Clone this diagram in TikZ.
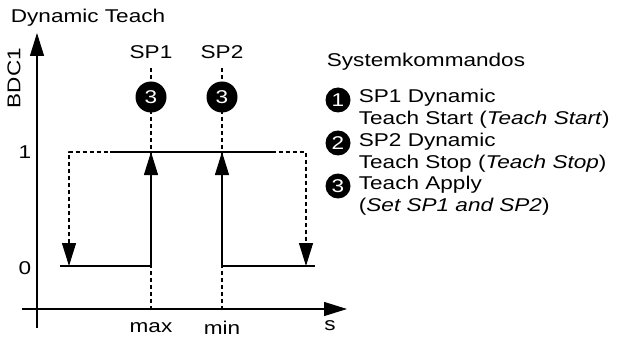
\documentclass[tikz,border=0pt]{standalone}
\usepackage{fontspec}
\setmainfont{Liberation Sans}[FakeStretch=1.22]
\usetikzlibrary{arrows.meta,positioning}
\tikzset{
	numdot/.style={circle, fill=black, text=white, inner sep=0pt, minimum size=31pt},
	legdot/.style={circle, fill=black, text=white, inner sep=0pt, minimum size=25pt},
	dashln/.style={dash pattern=on 4pt off 3pt},
}
\begin{document}
\begin{tikzpicture}[x=10pt,y=10pt,>={Triangle[length=23pt,width=14pt]}, line width=1.1pt, font=\fontsize{18.5}{22}\selectfont, line join=round, line cap=butt]
	\useasboundingbox (-3.7,-3.1) rectangle (58,30.9);
	\def\ylo{4.3} \def\yhi{15.7} \def\xmx{11.4} \def\xmn{18.5} \def\xl{3.2} \def\xr{26.9}
	% axes
	\coordinate (xa) at (-1.5,0); \coordinate (xb) at (31,0);
	\coordinate (ya) at (0,-1.9); \coordinate (yb) at (0,27.6);
	\draw[->] (xa)--(xb);
	\draw[->] (ya)--(yb);
	\node (s) at (29.3,-1.7) {s};
	\node (l1) at (-1.2,\yhi) {1};
	\node (l0) at (-1.2,4.1) {0};
	\node[rotate=90] (bdc) at (-2.3,23.1) {BDC1};
	\node[anchor=west] (title) at (-3.0,29.1) {Dynamic Teach};
	% SP1 / SP2 marks
	\foreach \x/\n/\lab/\ax in {\xmx/1/SP1/max,\xmn/2/SP2/min}{
		\coordinate (bot\n) at (\x,-0.1);
		\coordinate (top\n) at (\x,24.1);
		\draw[dashln] (bot\n)--(top\n);
		\node (sp\n) at (\x,25.7) {\lab};
		\node[numdot] (dot\n) at (\x,21.2) {3};
		\node (ax\n) at (\x,-1.9) {\ax};
	}
	% switching levels
	\coordinate (a0) at (2.3,\ylo); \coordinate (m0) at (\xmx,\ylo); \coordinate (m1) at (\xmx,\yhi);
	\coordinate (e0) at (27.8,\ylo); \coordinate (n0) at (\xmn,\ylo); \coordinate (n1) at (\xmn,\yhi);
	\coordinate (t0) at (7.3,\yhi); \coordinate (t1) at (23.6,\yhi);
	\coordinate (dl0) at (\xl,\ylo); \coordinate (dl1) at (\xl,\yhi);
	\coordinate (dr0) at (\xr,\ylo); \coordinate (dr1) at (\xr,\yhi);
	\draw[dashln,<->] (dl0)--(dl1)--(dr1)--(dr0);
	\draw (t0)--(t1);
	\draw[->] (a0)--(m0)--(m1);
	\draw[->] (e0)--(n0)--(n1);
	% legend
	\node[anchor=west] (leg) at (28.6,24.7) {Systemkommandos};
	\node[anchor=west, align=left] (e1) at (31.8,20.0) {SP1 Dynamic\\Teach Start (\textit{Teach Start})};
	\node[anchor=west, align=left] (e2) at (31.8,15.65) {SP2 Dynamic\\Teach Stop (\textit{Teach Stop})};
	\node[anchor=west, align=left] (e3) at (31.8,11.3) {Teach Apply\\(\textit{Set SP1 and SP2})};
	\node[legdot] (c1) at (30.1,20.9) {1};
	\node[legdot] (c2) at (30.1,16.6) {2};
	\node[legdot] (c3) at (30.1,12.3) {3};
\end{tikzpicture}
\end{document}
